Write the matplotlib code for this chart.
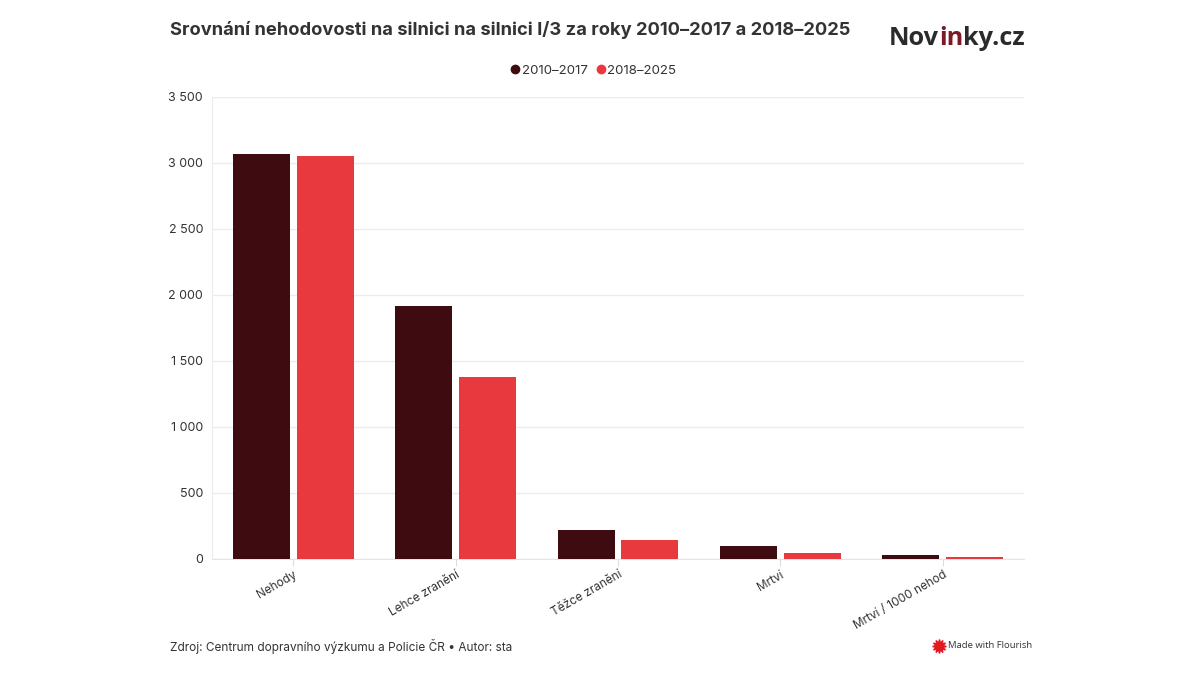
import numpy as np
import matplotlib.pyplot as plt
from matplotlib.lines import Line2D
from matplotlib.ticker import FuncFormatter

plt.rcParams['font.family'] = ['Inter', 'DejaVu Sans']

categories = ["Nehody", "Lehce zranění", "Těžce zranění", "Mrtví", "Mrtví / 1000 nehod"]
series_names = ["2010–2017", "2018–2025"]
vals_2010 = [3070, 1914, 218, 96, 30]
vals_2018 = [3051, 1379, 147, 43, 13]
yticks = [0, 500, 1000, 1500, 2000, 2500, 3000, 3500]

col_dark = "#3e0c10"
col_red = "#e8393e"
txt = "#333333"

fig = plt.figure(figsize=(12, 6.75), dpi=100)
ax = fig.add_axes([0.1767, 0.1719, 0.6766, 0.6844])

x = np.arange(len(categories))
w = 0.351
gap = 0.043
ax.bar(x - (w + gap) / 2, vals_2010, width=w, color=col_dark, zorder=3)
ax.bar(x + (w + gap) / 2, vals_2018, width=w, color=col_red, zorder=3)

ax.set_xlim(-0.5, len(categories) - 0.5)
ax.set_ylim(0, 3500)
ax.set_yticks(yticks)
ax.yaxis.set_major_formatter(FuncFormatter(lambda v, p: "{:,}".format(int(v)).replace(",", " ")))
ax.grid(axis="y", color="#ececec", linewidth=1, zorder=0)
for s in ["top", "right"]:
    ax.spines[s].set_visible(False)
ax.spines["left"].set_color("#ececec")
ax.spines["bottom"].set_color("#e4e4e4")
ax.tick_params(axis="y", length=0, pad=6.5, labelsize=9, labelcolor=txt)
ax.tick_params(axis="x", length=5, color="#dddddd", pad=2, labelsize=8.5, labelcolor=txt)
ax.set_xticks(x)
ax.set_xticklabels(categories, rotation=30, ha="right", rotation_mode="anchor")

# title
fig.text(170 / 1200, 1 - 30 / 675, "Srovnání nehodovosti na silnici na silnici I/3 za roky 2010–2017 a 2018–2025",
         fontsize=13.2, fontweight="bold", color=txt, va="center", ha="left")

# logo
logo_font = ["Open Sans", "DejaVu Sans"]
t1 = fig.text(889 / 1200, 1 - 45 / 675, "Nov", fontsize=18.2, fontweight="bold", color="#2b2b2b",
              family=logo_font, va="baseline")
t2 = plt.annotate("in", xy=(1, 0), xycoords=t1, va="bottom", ha="left", fontsize=18.2, fontweight="bold",
                  color="#7e1a27", family=logo_font)
plt.annotate("ky.cz", xy=(1, 0), xycoords=t2, va="bottom", ha="left", fontsize=18.2, fontweight="bold",
             color="#2b2b2b", family=logo_font)

# legend
handles = [Line2D([], [], marker="o", linestyle="", markersize=6, color=col_dark),
           Line2D([], [], marker="o", linestyle="", markersize=6, color=col_red)]
fig.legend(handles, series_names, loc="center", bbox_to_anchor=(593 / 1200, 1 - 71 / 675), ncol=2,
           frameon=False, fontsize=9.5, handletextpad=0.1, columnspacing=0.6, handlelength=0.8,
           labelcolor=txt)

# footer
fig.text(170 / 1200, 1 - 647 / 675, "Zdroj: Centrum dopravního výzkumu a Policie ČR • Autor: sta",
         fontsize=8.5, color=txt, va="center", ha="left")
fig.text(948 / 1200, 1 - 646 / 675, "Made with Flourish", fontsize=6.8, color="#333333",
         va="center", ha="left", family=logo_font)
fig.lines.append(Line2D([939 / 1200], [1 - 646 / 675], marker=(12, 1, 0), markersize=10, color="#e01a22",
                        transform=fig.transFigure))

fig.savefig("out.png", dpi=100, facecolor="white")
